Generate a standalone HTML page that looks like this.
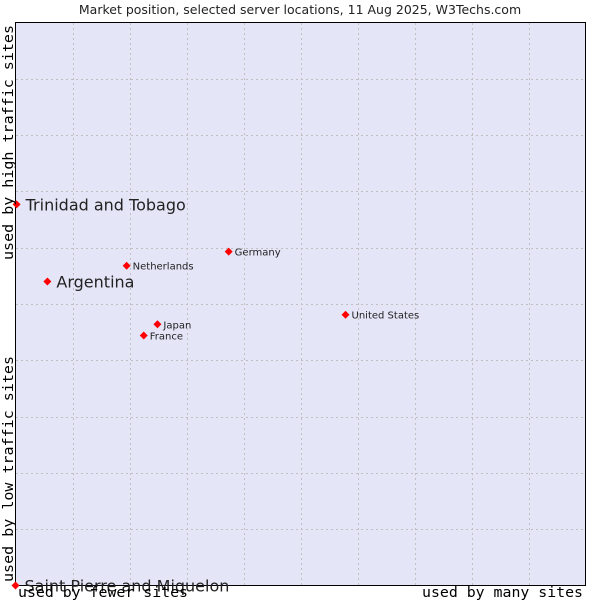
<!DOCTYPE html>
<html><head><meta charset="utf-8"><style>
body{margin:0;background:#fff;width:600px;height:600px;overflow:hidden}
svg text{font-family:"DejaVu Sans","Liberation Sans",sans-serif;fill:#222}
.mono{font-family:"DejaVu Sans Mono","Liberation Mono",monospace;fill:#000}
</style></head><body>
<svg width="600" height="600">
<text x="300" y="14" text-anchor="middle" font-size="12.5">Market position, selected server locations, 11 Aug 2025, W3Techs.com</text>
<rect x="15.5" y="22.5" width="570" height="563" fill="#e4e6f8" stroke="#000"/>
<g id="grid"></g>
<g id="pts"></g>
<text class="mono" x="18" y="597" font-size="14" textLength="170" lengthAdjust="spacingAndGlyphs">used by fewer sites</text>
<text class="mono" x="422" y="597" font-size="14" textLength="161" lengthAdjust="spacingAndGlyphs">used by many sites</text>
<text class="mono" transform="translate(13,260) rotate(-90)" font-size="14" textLength="235" lengthAdjust="spacingAndGlyphs">used by high traffic sites</text>
<text class="mono" transform="translate(13,582) rotate(-90)" font-size="14" textLength="226" lengthAdjust="spacingAndGlyphs">used by low traffic sites</text>
</svg>
<script>
const names=["Trinidad and Tobago","Argentina","Netherlands","Germany","United States","Japan","France","Saint Pierre and Miquelon"];
const xVals=[0.2,5.6,19.5,37.4,57.9,24.9,22.5,0];
const yVals=[67.7,54.0,56.8,59.3,48.1,46.4,44.4,0];
const big=[true,true,false,false,false,false,false,true];
const X0=15.5,W=570,Y0=585.5,H=563;
const sx=v=>X0+v/100*W, sy=v=>Y0-v/100*H;
const ns="http://www.w3.org/2000/svg";
const g=document.getElementById('grid');
for(let i=1;i<10;i++){
 const l=document.createElementNS(ns,'line');
 
 
 const x=Math.round(sx(i*10))+0.5;
 l.setAttribute('x1',x);l.setAttribute('x2',x);l.setAttribute('y1',23);l.setAttribute('y2',585);
 l.setAttribute('stroke','#c0c0c0');l.setAttribute('stroke-dasharray','2,3');g.appendChild(l);
 const h=document.createElementNS(ns,'line');
 
 
 const y=Math.round(sy(i*10))+0.5;
 h.setAttribute('x1',16);h.setAttribute('x2',585);h.setAttribute('y1',y);h.setAttribute('y2',y);
 h.setAttribute('stroke','#c0c0c0');h.setAttribute('stroke-dasharray','2,3');g.appendChild(h);
}
const p=document.getElementById('pts');
names.forEach((n,i)=>{
 const x=sx(xVals[i]),y=sy(yVals[i]);
 const d=document.createElementNS(ns,'polygon');
 
 
 d.setAttribute('points',`${x},${y-4} ${x+4},${y} ${x},${y+4} ${x-4},${y}`);
 d.setAttribute('fill','#f00');p.appendChild(d);
 const t=document.createElementNS(ns,'text');
 
 
 t.setAttribute('x',x+(big[i]?9:6));t.setAttribute('y',y+(big[i]?6:4));
 t.setAttribute('font-size',big[i]?16:10);t.textContent=n;p.appendChild(t);
});
</script>
</body></html>
